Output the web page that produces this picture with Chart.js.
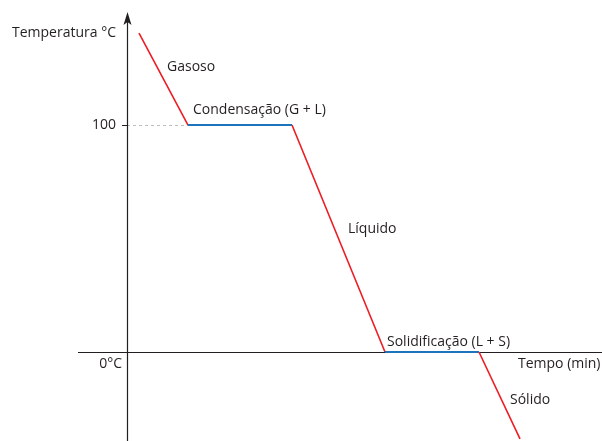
<!DOCTYPE html>
<html>
<head>
<meta charset="utf-8">
<script src="https://cdn.jsdelivr.net/npm/chart.js@4/dist/chart.umd.min.js"></script>
<style>
    html, body { margin: 0; padding: 0; background: #fff; }
    #wrap { width: 602px; height: 441px; position: relative; }
</style>
</head>
<body>
<div id="wrap"><canvas id="coolingChart"></canvas></div>
<script>
// curva de arrefecimento da água
const timeValues = [1.2, 6.1, 16.5, 25.8, 35.2, 39.3];
const tempValues = [140.5, 100, 100, 0, 0, -38.3];
const phaseNames = ['Gasoso', 'Condensação (G + L)', 'Líquido', 'Solidificação (L + S)', 'Sólido'];
const phaseIsChange = [false, true, false, true, false];
const tempTicks = [100, 0];
const tickLabels = ['100', '0°C'];
const axisTitles = ['Temperatura °C', 'Tempo (min)'];

const RED = '#ed1c24';
const BLUE = '#1c75bc';
const INK = '#231f20';
const FONT = '14px "Open Sans", sans-serif';

const points = timeValues.map((t, i) => ({ x: t, y: tempValues[i] }));

const axesPlugin = {
    id: 'axes',
    beforeDatasetsDraw(chart) {
        const { ctx, scales: { x, y } } = chart;
        const x0 = x.getPixelForValue(0);
        const y0 = y.getPixelForValue(0);
        const y100 = y.getPixelForValue(tempTicks[0]);
        const xCond = x.getPixelForValue(timeValues[1]);

        ctx.save();
        // linha tracejada até ao patamar dos 100
        ctx.strokeStyle = '#bcbec0';
        ctx.lineWidth = 1;
        ctx.setLineDash([3, 3]);
        ctx.beginPath();
        ctx.moveTo(x0, Math.round(y100) + 0.5);
        ctx.lineTo(xCond, Math.round(y100) + 0.5);
        ctx.stroke();
        ctx.setLineDash([]);

        ctx.strokeStyle = INK;
        ctx.lineWidth = 1.2;
        ctx.beginPath();
        // eixo horizontal
        ctx.moveTo(x.getPixelForValue(-4.9), Math.round(y0) + 0.5);
        ctx.lineTo(chart.width, Math.round(y0) + 0.5);
        // eixo vertical
        ctx.moveTo(Math.round(x0) + 0.5, chart.height);
        ctx.lineTo(Math.round(x0) + 0.5, 22);
        // marca dos 100
        ctx.moveTo(x0 - 5, Math.round(y100) + 0.5);
        ctx.lineTo(x0, Math.round(y100) + 0.5);
        ctx.stroke();

        // seta
        ctx.fillStyle = INK;
        ctx.beginPath();
        ctx.moveTo(Math.round(x0) + 0.5, 12);
        ctx.lineTo(Math.round(x0) + 4.5, 25);
        ctx.lineTo(Math.round(x0) + 0.5, 22);
        ctx.lineTo(Math.round(x0) - 3.5, 25);
        ctx.closePath();
        ctx.fill();
        ctx.restore();
    },
    afterDatasetsDraw(chart) {
        const { ctx, scales: { x, y } } = chart;
        const labels = [
            [axisTitles[0], -1.1, tempValues[0], 'right'],
            [tickLabels[0], -1.1, tempTicks[0], 'right'],
            [tickLabels[1], -0.5, -5.3, 'right'],
            [axisTitles[1], 39.1, -5.3, 'left'],
            [phaseNames[0], 4.0, 125.6, 'left'],
            [phaseNames[1], 6.6, 106.6, 'left'],
            [phaseNames[2], 22.1, 54.2, 'left'],
            [phaseNames[3], 26.0, 4.6, 'left'],
            [phaseNames[4], 38.3, -21.1, 'left']
        ];
        ctx.save();
        ctx.font = FONT;
        ctx.fillStyle = INK;
        ctx.textBaseline = 'middle';
        labels.forEach(([text, vx, vy, align]) => {
            ctx.textAlign = align;
            ctx.fillText(text, x.getPixelForValue(vx), y.getPixelForValue(vy));
        });
        ctx.restore();
    }
};

new Chart(document.getElementById('coolingChart').getContext('2d'), {
    type: 'line',
    data: {
        datasets: [{
            data: points,
            borderColor: RED,
            borderWidth: 1.6,
            pointRadius: 0,
            tension: 0,
            fill: false,
            segment: {
                borderColor: c => phaseIsChange[c.p0DataIndex] ? BLUE : RED,
                borderWidth: c => phaseIsChange[c.p0DataIndex] ? 2 : 1.6
            }
        }]
    },
    options: {
        responsive: true,
        maintainAspectRatio: false,
        animation: false,
        layout: { padding: 0 },
        plugins: {
            legend: { display: false },
            tooltip: { enabled: false }
        },
        scales: {
            x: { type: 'linear', display: false, min: -12.7, max: 47.5 },
            y: { type: 'linear', display: false, min: -39.2, max: 155.1 }
        }
    },
    plugins: [axesPlugin]
});
</script>
</body>
</html>
